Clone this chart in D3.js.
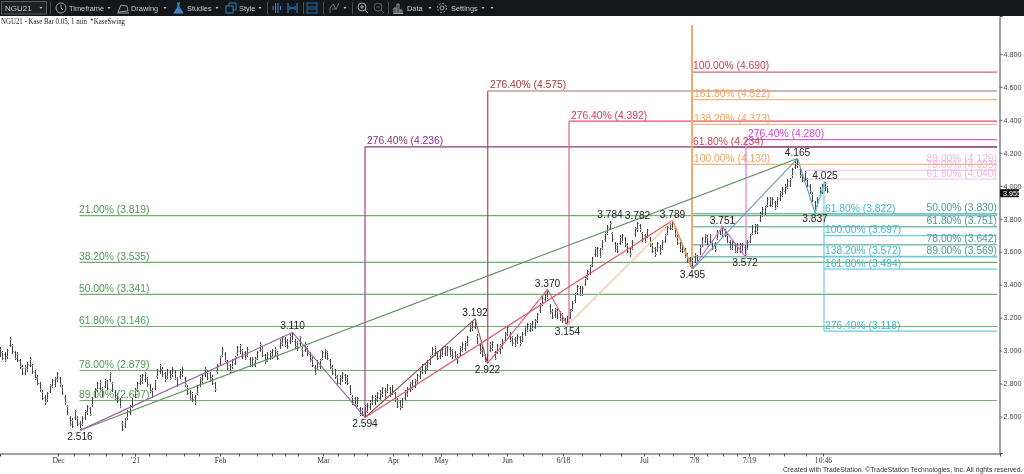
<!DOCTYPE html>
<html>
<head>
<meta charset="utf-8">
<title>NGU21</title>
<script src="https://cdn.jsdelivr.net/npm/d3@7"></script>
<style>
  html, body { margin: 0; padding: 0; background: #fff; overflow: hidden; }
  svg { display: block; filter: blur(0.3px); }
  text { font-family: "Liberation Sans", Arial, sans-serif; }
</style>
</head>
<body>
<div id="main"></div>
<script>
// Kase bars, one high and one low per bar
const barHigh = [
  3.02,3.00,2.99,3.01,3.08,3.04,3.00,2.99,2.95,2.91,
  2.91,2.93,2.96,2.92,2.88,2.85,2.81,2.76,2.73,2.75,
  2.80,2.83,2.84,2.87,2.84,2.79,2.73,2.67,2.60,2.59,
  2.64,2.60,2.57,2.60,2.64,2.67,2.66,2.72,2.77,2.81,
  2.82,2.78,2.83,2.82,2.87,2.81,2.76,2.74,2.71,2.57,
  2.59,2.64,2.67,2.71,2.77,2.81,2.85,2.86,2.87,2.84,
  2.80,2.77,2.82,2.89,2.92,2.90,2.87,2.89,2.88,2.90,
  2.88,2.84,2.89,2.90,2.84,2.79,2.76,2.75,2.73,2.79,
  2.84,2.86,2.90,2.88,2.87,2.85,2.81,2.92,2.97,3.02,
  2.99,2.94,2.92,2.95,2.97,3.03,3.04,3.01,3.00,3.02,
  2.96,2.96,2.96,3.00,3.05,3.02,2.98,2.99,3.00,3.01,
  3.02,3.00,3.07,3.09,3.08,3.07,3.10,3.11,3.07,3.06,
  3.09,3.02,3.05,3.03,2.99,2.96,2.91,2.94,2.95,3.00,
  3.01,3.00,2.95,2.91,2.89,2.85,2.85,2.87,2.86,2.85,
  2.79,2.73,2.72,2.72,2.66,2.65,2.67,2.68,2.70,2.73,
  2.73,2.75,2.76,2.78,2.77,2.80,2.78,2.79,2.75,2.71,
  2.70,2.71,2.76,2.78,2.81,2.82,2.83,2.86,2.89,2.92,
  2.92,2.94,2.97,3.02,3.03,3.00,3.01,3.02,3.03,3.03,
  3.02,3.01,3.00,2.98,3.03,3.05,3.06,3.09,3.17,3.18,
  3.192,3.10,3.04,3.02,2.98,2.98,3.05,3.06,3.00,3.04,
  3.04,3.07,3.11,3.15,3.11,3.09,3.08,3.10,3.09,3.11,
  3.15,3.17,3.17,3.18,3.19,3.23,3.29,3.33,3.36,3.37,
  3.28,3.25,3.26,3.25,3.24,3.23,3.20,3.21,3.25,3.30,
  3.35,3.40,3.39,3.39,3.45,3.49,3.52,3.57,3.63,3.63,
  3.62,3.67,3.72,3.76,3.784,3.72,3.66,3.65,3.70,3.71,
  3.69,3.65,3.63,3.67,3.75,3.782,3.77,3.72,3.71,3.74,
  3.69,3.65,3.63,3.66,3.64,3.67,3.71,3.76,3.78,3.789,
  3.75,3.70,3.66,3.65,3.62,3.59,3.57,3.56,3.59,3.58,
  3.64,3.69,3.71,3.70,3.71,3.67,3.66,3.73,3.74,3.751,
  3.74,3.71,3.67,3.67,3.65,3.65,3.65,3.65,3.64,3.67,
  3.71,3.76,3.77,3.77,3.84,3.87,3.88,3.93,3.93,3.93,
  3.91,3.93,3.97,3.99,4.01,4.04,4.05,4.11,4.15,4.165,
  4.11,4.08,4.09,4.05,4.01,3.96,3.91,3.93,3.99,4.01,
  4.025,4.00
];
const barLow = [
  2.96,2.94,2.93,2.95,3.02,2.98,2.94,2.93,2.89,2.85,
  2.85,2.87,2.90,2.86,2.82,2.79,2.75,2.70,2.67,2.69,
  2.74,2.77,2.78,2.81,2.78,2.73,2.67,2.61,2.54,2.53,
  2.58,2.54,2.516,2.54,2.58,2.61,2.60,2.66,2.71,2.75,
  2.76,2.72,2.77,2.76,2.81,2.75,2.70,2.68,2.65,2.51,
  2.53,2.58,2.61,2.65,2.71,2.75,2.79,2.80,2.81,2.78,
  2.74,2.71,2.76,2.83,2.86,2.84,2.81,2.83,2.82,2.84,
  2.82,2.78,2.83,2.84,2.78,2.73,2.70,2.69,2.67,2.73,
  2.78,2.80,2.84,2.82,2.81,2.79,2.75,2.86,2.91,2.96,
  2.93,2.88,2.86,2.89,2.91,2.97,2.98,2.95,2.94,2.96,
  2.90,2.90,2.90,2.94,2.99,2.96,2.92,2.93,2.94,2.95,
  2.96,2.94,3.01,3.03,3.02,3.01,3.04,3.05,3.01,3.00,
  3.03,2.96,2.99,2.97,2.93,2.90,2.85,2.88,2.89,2.94,
  2.95,2.94,2.89,2.85,2.83,2.79,2.79,2.81,2.80,2.79,
  2.73,2.67,2.66,2.66,2.60,2.60,2.594,2.62,2.64,2.67,
  2.67,2.69,2.70,2.72,2.71,2.74,2.72,2.73,2.69,2.65,
  2.64,2.65,2.70,2.72,2.75,2.76,2.77,2.80,2.83,2.86,
  2.86,2.88,2.91,2.96,2.97,2.94,2.95,2.96,2.97,2.97,
  2.96,2.95,2.94,2.92,2.97,2.99,3.00,3.03,3.11,3.12,
  3.13,3.04,2.98,2.96,2.93,2.922,2.99,3.00,2.94,2.98,
  2.98,3.01,3.05,3.09,3.05,3.03,3.02,3.04,3.03,3.05,
  3.09,3.11,3.11,3.12,3.13,3.17,3.23,3.27,3.30,3.31,
  3.22,3.19,3.20,3.19,3.18,3.17,3.16,3.154,3.19,3.24,
  3.29,3.34,3.33,3.33,3.39,3.43,3.46,3.51,3.57,3.57,
  3.56,3.61,3.66,3.70,3.73,3.66,3.60,3.59,3.64,3.65,
  3.63,3.59,3.57,3.61,3.69,3.72,3.72,3.66,3.65,3.68,
  3.63,3.59,3.57,3.60,3.58,3.61,3.65,3.70,3.73,3.73,
  3.69,3.64,3.60,3.59,3.56,3.53,3.51,3.495,3.53,3.52,
  3.58,3.63,3.65,3.64,3.65,3.61,3.60,3.67,3.70,3.69,
  3.69,3.65,3.61,3.61,3.59,3.59,3.59,3.59,3.572,3.61,
  3.65,3.70,3.71,3.71,3.78,3.81,3.82,3.87,3.87,3.87,
  3.85,3.87,3.91,3.93,3.95,3.98,3.99,4.05,4.10,4.11,
  4.05,4.02,4.03,3.99,3.95,3.90,3.837,3.87,3.93,3.95,
  3.97,3.955
];

// swing pivots: bar number and price
const swingBars   = [32, 117, 146, 190, 195, 219, 227, 244, 255, 269, 277, 289, 298, 319, 326, 330];
const swingPrices = [2.516, 3.110, 2.594, 3.192, 2.922, 3.370, 3.154, 3.784, 3.782, 3.789, 3.495, 3.751, 3.572, 4.165, 3.837, 4.025];
const swingIsHigh = [0, 1, 0, 1, 0, 1, 0, 1, 1, 1, 0, 1, 0, 1, 0, 1];

// fib levels
const greenRatios  = [21, 38.2, 50, 61.8, 78, 89];
const greenPrices  = [3.819, 3.535, 3.341, 3.146, 2.879, 2.697];
const orangeRatios = [100, 138.2, 161.8];
const orangePrices = [4.130, 4.373, 4.522];
const redRatios    = [61.8, 100];
const redPrices    = [4.234, 4.690];
const pinkRatios   = [61.8, 78, 89];
const pinkPrices   = [4.040, 4.093, 4.129];
const tealRatios   = [50, 61.8, 78, 89];
const tealPrices   = [3.830, 3.751, 3.642, 3.569];
const cyanRatios   = [61.8, 100, 138.2, 161.8, 276.4];
const cyanPrices   = [3.822, 3.697, 3.572, 3.494, 3.118];
const extRatio     = 276.4;
const extPrices    = [4.236, 4.575, 4.392, 4.280];   // purple, brown, crimson, magenta

// axes
const priceTicks = [2.6, 2.8, 3.0, 3.2, 3.4, 3.6, 3.8, 4.0, 4.2, 4.4, 4.6, 4.8];
const lastPrice = 3.955;
const timeTickBars = [23.2,29.6,35.6,42.4,48.8,54,59.6,66.4,73.6,79.6,88,95.6,102.8,108.8,114,119.2,129.2,135.2,141.6,146.8,157.2,163.2,168.8,176.4,182.8,188.8,195.2,202.8,209.2,216.8,225.2,232.8,240,248.4,257.6,263.6,269.2,277.6,282.8,289.2,294.8,299.6,307.6,313.6,322.4,329.2];
const timeLabelBars = [23.2, 54, 88, 129.2, 157.2, 176.4, 202.8, 225.2, 257.6, 277.6, 299.6, 329.2];
const timeLabels = ['Dec', "'21", 'Feb', 'Mar', 'Apr', 'May', 'Jun', '6/18', 'Jul', '7/8', '7/19', '10:46'];

// toolbar
const menuNames = ['Timeframe', 'Drawing', 'Studies', 'Style', 'Data', 'Settings'];
const menuX = [69, 131, 187, 239, 407, 451];

const w = 1024, h = 474;
const barSlots = 400;      // chart width in bars, right axis sits just past the last slot
const xScale = d3.scaleLinear().domain([0, barSlots]).range([0, 1000]);
const yScale = d3.scaleLinear().domain([2.3785, 5.03]).range([453, 16]);
const lineEnd = 398.8;     // all the fib lines stop here
const topBar = 4.976;      // price where the tall orange line ends

const svg = d3.select('#main').append('svg').attr('width', w).attr('height', h);
svg.append('rect').attr('width', w).attr('height', h).attr('fill', '#fff');

const fmtPct = d3.format('.2f');
const fibText = (r, p) => fmtPct(r) + '% (' + p.toFixed(3) + ')';

function hLines(prices, start, color, width) {
  svg.append('g').selectAll('line').data(prices).enter().append('line')
    .attr('x1', xScale(start)).attr('x2', xScale(lineEnd))
    .attr('y1', d => yScale(d)).attr('y2', d => yScale(d))
    .attr('stroke', color).attr('stroke-width', width || 1.2);
}
function fibLabels(ratios, prices, x, anchor, color) {
  svg.append('g').selectAll('text').data(prices).enter().append('text')
    .attr('x', xScale(x)).attr('y', d => yScale(d) - 2.6)
    .attr('text-anchor', anchor).attr('fill', color).attr('font-size', 10.3)
    .text((d, i) => fibText(ratios[i], d));
}
function vLine(bar, p1, p2, color, width) {
  svg.append('line').attr('x1', xScale(bar)).attr('x2', xScale(bar))
    .attr('y1', yScale(p1)).attr('y2', yScale(p2))
    .attr('stroke', color).attr('stroke-width', width || 1.2);
}
function zig(idx, color, width) {
  const line = d3.line().x(i => xScale(swingBars[i])).y(i => yScale(swingPrices[i]));
  svg.append('path').attr('d', line(idx)).attr('fill', 'none')
    .attr('stroke', color).attr('stroke-width', width || 1.1);
}

/// fib lines, under the bars ///
hLines(greenPrices, swingBars[0] - 0.2, '#6fae6f');
hLines(tealPrices, swingBars[10], '#7dbbae', 1.4);
hLines(cyanPrices, 329.6, '#6cc9e0');
hLines(pinkPrices, 322, '#f3cdec');
hLines(orangePrices, swingBars[10], '#f3b67c');
hLines(redPrices, swingBars[10], '#d4607a');
hLines([extPrices[0]], swingBars[2], '#8a3f78');
hLines([extPrices[1]], swingBars[4], '#a36a6a');
hLines([extPrices[2]], 227.6, '#e2487c');
hLines([extPrices[3]], swingBars[12] + 0.4, '#d95fd9');

vLine(swingBars[2], swingPrices[2], extPrices[0], '#a0408c');
vLine(swingBars[4] + 0.1, swingPrices[4], extPrices[1], '#a84a4a');
vLine(227.6, swingPrices[6], extPrices[2], '#e2608c');
vLine(swingBars[10] - 0.2, swingPrices[10], topBar, '#f2ab6e', 2);
vLine(swingBars[12] + 0.4, swingPrices[12], extPrices[3], '#e58ae8', 1.4);
vLine(329.6, swingPrices[15], cyanPrices[4], '#6cc9e0');

/// bars ///
const barG = svg.append('g').attr('shape-rendering', 'crispEdges');
const bars = barHigh.map((hi, i) => ({ i, hi, lo: barLow[i] }));
barG.selectAll('line.bar').data(bars).enter().append('line').attr('class', 'bar')
  .attr('x1', d => xScale(d.i)).attr('x2', d => xScale(d.i))
  .attr('y1', d => yScale(d.hi)).attr('y2', d => yScale(d.lo))
  .attr('stroke', '#444');
// open tick on the left, close tick on the right, at the ends of the bar
const isUp = d => d.i === 0 || d.hi >= barHigh[d.i - 1];
barG.selectAll('line.open').data(bars).enter().append('line').attr('class', 'open')
  .attr('x1', d => xScale(d.i) - 1.5).attr('x2', d => xScale(d.i))
  .attr('y1', d => yScale(isUp(d) ? d.lo : d.hi) + (isUp(d) ? -2 : 2))
  .attr('y2', d => yScale(isUp(d) ? d.lo : d.hi) + (isUp(d) ? -2 : 2))
  .attr('stroke', '#aaa');
barG.selectAll('line.close').data(bars).enter().append('line').attr('class', 'close')
  .attr('x1', d => xScale(d.i)).attr('x2', d => xScale(d.i) + 1.5)
  .attr('y1', d => yScale(isUp(d) ? d.hi : d.lo) + (isUp(d) ? 2 : -2))
  .attr('y2', d => yScale(isUp(d) ? d.hi : d.lo) + (isUp(d) ? 2 : -2))
  .attr('stroke', '#aaa');

/// swing lines ///
zig([0, 13], '#5f925f');
zig([0, 1, 2], '#a064a8', 1.2);
zig([2, 3, 4], '#8f5050');
zig([2, 9], '#e0566a', 1.2);
zig([4, 5, 6], '#e0557f');
zig([6, 9], '#f4c592', 1.2);
zig([9, 10], '#ef9355', 1.6);
zig([10, 11, 12], '#d263d6');
zig([10, 13], '#6ba3ad', 1.2);
zig([13, 14], '#5d9ec8', 1.2);
zig([14, 15], '#58c2dc', 1.2);

/// fib labels ///
fibLabels(greenRatios, greenPrices, swingBars[0] - 0.4, 'start', '#4f9a4f');
fibLabels(tealRatios, tealPrices, lineEnd, 'end', '#4f9a96');
fibLabels(cyanRatios, cyanPrices, 330, 'start', '#3fb7d2');
fibLabels(pinkRatios, pinkPrices, lineEnd, 'end', '#f0b6e4');
fibLabels(orangeRatios, orangePrices, 277.6, 'start', '#eea45c');
fibLabels(redRatios, redPrices, 277.2, 'start', '#c8414f');
fibLabels([extRatio], [extPrices[0]], 146.8, 'start', '#86308a');
fibLabels([extRatio], [extPrices[1]], 196, 'start', '#a03c3c');
fibLabels([extRatio], [extPrices[2]], 228.4, 'start', '#d23a5c');
fibLabels([extRatio], [extPrices[3]], 299.2, 'start', '#d040d4');

/// swing labels ///
svg.append('g').selectAll('text').data(swingPrices).enter().append('text')
  .attr('x', (d, i) => xScale(swingBars[i]))
  .attr('y', (d, i) => yScale(d) + (swingIsHigh[i] ? -3 : 9.5))
  .attr('text-anchor', 'middle').attr('fill', '#222').attr('font-size', 10.2)
  .text(d => d.toFixed(3));

/// axes ///
const yAxis = d3.axisRight(yScale).tickValues(priceTicks).tickSize(3).tickFormat(d3.format('.3f'));
const gy = svg.append('g').attr('transform', 'translate(999.5,0)').call(yAxis);
gy.select('.domain').attr('stroke', '#444');
gy.selectAll('text').attr('x', 4).attr('font-size', 7.2).attr('fill', '#444');
gy.selectAll('line').attr('stroke', '#666');

const xAxis = d3.axisBottom(xScale).tickValues(timeTickBars).tickSize(3)
  .tickFormat(d => { const k = timeLabelBars.indexOf(d); return k < 0 ? '' : timeLabels[k]; });
const gx = svg.append('g').attr('transform', 'translate(0,453.5)').call(xAxis);
gx.select('.domain').attr('stroke', '#444');
gx.selectAll('line').attr('stroke', '#555');
gx.selectAll('text').attr('y', 4.6).attr('dy', '.71em').attr('font-size', 7.6).attr('fill', '#333')
  .style('font-family', '"Liberation Serif", serif');

// last price flag
svg.append('rect').attr('x', 1000).attr('y', yScale(lastPrice) - 4).attr('width', 19).attr('height', 8).attr('fill', '#111');
svg.append('text').attr('x', 1003).attr('y', yScale(lastPrice) + 2.6)
  .attr('font-size', 7.2).attr('fill', '#fff').text(lastPrice.toFixed(3));

/// title and credit ///
svg.append('text').attr('x', 1).attr('y', 24).attr('font-size', 7.8).attr('fill', '#222')
  .attr('textLength', 124).attr('lengthAdjust', 'spacingAndGlyphs')
  .style('font-family', '"Liberation Serif", serif')
  .attr('xml:space', 'preserve').text('NGU21 - Kase Bar 0.05, 1 min  *KaseSwing');
const credit = svg.append('text').attr('x', 1022.5).attr('y', 471.6).attr('text-anchor', 'end')
  .attr('font-size', 8).attr('fill', '#333')
  .text('Created with TradeStation. \u00A9TradeStation Technologies, Inc. All rights reserved.');
credit.attr('font-size', 8 * 240 / credit.node().getComputedTextLength());   // shrink to the width in the picture

/// toolbar ///
const tb = svg.append('g');
tb.append('rect').attr('width', w).attr('height', 16).attr('fill', '#15181b');
tb.append('rect').attr('x', 1.5).attr('y', 1.5).attr('width', 45).attr('height', 12.5)
  .attr('fill', '#1f2225').attr('stroke', '#5a5a5a');
tb.append('text').attr('x', 5).attr('y', 10.8).attr('font-size', 8).attr('fill', '#c8c8c8').text('NGU21');
tb.selectAll('text.menu').data(menuNames).enter().append('text').attr('class', 'menu')
  .attr('x', (d, i) => menuX[i]).attr('y', 11).attr('font-size', 7.4).attr('fill', '#c4c8cc')
  .text(d => d);

// little drop arrows
const arrowX = [41, 109, 165, 217, 260, 345, 430, 483, 492];
tb.selectAll('path.arrow').data(arrowX).enter().append('path').attr('class', 'arrow')
  .attr('d', d => 'M' + (d - 1.5) + ',7 h3 l-1.5,2 z').attr('fill', '#c4c8cc');
// separators
tb.selectAll('line.sep').data([50, 267, 303, 323, 352, 388]).enter().append('line').attr('class', 'sep')
  .attr('x1', d => d + 0.5).attr('x2', d => d + 0.5).attr('y1', 2).attr('y2', 14)
  .attr('stroke', '#4a4e52');

// icons, drawn plain
const ic = (c, tag) => tb.append(tag).attr('fill', 'none').attr('stroke', c);
ic('#9aa0a6', 'circle').attr('cx', 61).attr('cy', 8).attr('r', 5);
ic('#9aa0a6', 'path').attr('d', 'M61,5 v3 l2,2');
ic('#8f9ca8', 'path').attr('d', 'M118,12 l3,-7 l6,1 l1,5 z M117,13 h12');
ic('#3f8fd0', 'path').attr('d', 'M177,3 h3 M178,3 v4 l-4,6 h9 l-4,-6 v-4').attr('fill', '#3f7fb8');
ic('#2f7fb8', 'rect').attr('x', 226).attr('y', 6).attr('width', 7).attr('height', 7);
ic('#2f7fb8', 'path').attr('d', 'M229,6 v-3 h7 v7 h-3');
ic('#2f8fd8', 'path').attr('d', 'M273,6 v4 M275.5,3 v10 M278,3 v10 M280.5,6 v4');
ic('#2f8fd8', 'path').attr('d', 'M288,3 v10 M297,3 v10 M291,8 h3 M290,6 v4 M295,6 v4');
ic('#1f6fa8', 'rect').attr('x', 307).attr('y', 3).attr('width', 10).attr('height', 4);
ic('#1f6fa8', 'rect').attr('x', 307).attr('y', 9).attr('width', 10).attr('height', 4);
ic('#6a6e72', 'path').attr('d', 'M330,13 v-5 l3,-4 l3,5 l3,-6 M332,9 h5');
ic('#a8acb0', 'circle').attr('cx', 362).attr('cy', 7).attr('r', 4);
ic('#a8acb0', 'path').attr('d', 'M365,10 l3,3 M360,7 h4 M362,5 v4');
ic('#55595d', 'circle').attr('cx', 378).attr('cy', 7).attr('r', 4);
ic('#55595d', 'path').attr('d', 'M381,10 l3,3 M376,7 h4');
ic('#9aa0a6', 'path').attr('d', 'M394,13 v-5 h2 v5 M397,13 v-9 h2 v9 M400,13 v-3 h2 v3 M393,13.5 h10');
ic('#9aa0a6', 'circle').attr('cx', 442).attr('cy', 8).attr('r', 2);
ic('#9aa0a6', 'circle').attr('cx', 442).attr('cy', 8).attr('r', 4.5).attr('stroke-dasharray', '2 1.5');
</script>
</body>
</html>
